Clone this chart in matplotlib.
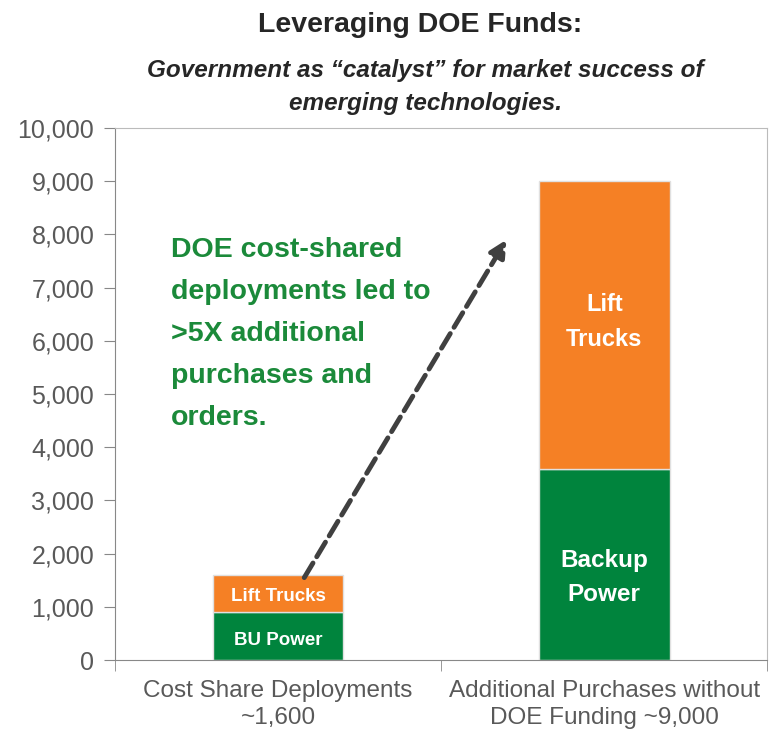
import numpy as np
import matplotlib
matplotlib.use("Agg")
import matplotlib.pyplot as plt
from matplotlib import font_manager

# ========================
# Data
# ========================
categories = ["Cost Share Deployments\n~1,600", "Additional Purchases without\nDOE Funding ~9,000"]
backup_power = [900, 3600]
lift_trucks = [700, 5400]
bottom_labels = ["BU Power", "Backup\nPower"]
top_labels = ["Lift Trucks", "Lift\nTrucks"]
yticks = np.arange(0, 10001, 1000)

GREEN = "#00843D"
ORANGE = "#F58025"
GRAY = "#595959"

names = {f.name for f in font_manager.fontManager.ttflist}
FAMILY = ["Liberation Sans Narrow", "DejaVu Sans"] if "Liberation Sans Narrow" in names else ["Liberation Sans", "DejaVu Sans"]
plt.rcParams["font.family"] = FAMILY

fig = plt.figure(figsize=(7.83, 7.31), dpi=100)
ax = fig.add_axes([0.147, 0.097, 0.833, 0.728])

x = np.arange(len(categories))
ax.bar(x, backup_power, width=0.4, color=GREEN, edgecolor="#e0e0e0", linewidth=1)
ax.bar(x, lift_trucks, width=0.4, bottom=backup_power, color=ORANGE, edgecolor="#e0e0e0", linewidth=1)

# segment labels (placed a bit below the segment centres, like the original)
ax.text(x[0], backup_power[0] / 2 - 80, bottom_labels[0], ha="center", va="center",
        color="white", fontsize=13.5, fontweight="bold")
ax.text(x[0], backup_power[0] + lift_trucks[0] / 2 - 60, top_labels[0], ha="center", va="center",
        color="white", fontsize=13.5, fontweight="bold")
ax.text(x[1], backup_power[1] / 2 - 250, bottom_labels[1], ha="center", va="center",
        color="white", fontsize=17.5, fontweight="bold", linespacing=1.6)
ax.text(x[1], backup_power[1] + lift_trucks[1] / 2 + 50, top_labels[1], ha="center", va="center",
        color="white", fontsize=17, fontweight="bold", linespacing=1.65)

# annotation arrow + text
ax.annotate("", xy=(0.70, 7900), xytext=(0.08, 1550),
            arrowprops=dict(arrowstyle="-|>", color="#404040", lw=3.5, linestyle=(0, (3.5, 1.5)),
                            mutation_scale=25, shrinkA=0, shrinkB=0))
ax.text(-0.33, 7950, "DOE cost-shared\ndeployments led to\n>5X additional\npurchases and\norders.",
        ha="left", va="top", color="#1b8a3a", fontsize=20.5, fontweight="bold", linespacing=1.8)

ax.set_xlim(-0.5, 1.5)
ax.set_ylim(0, 10000)
ax.set_yticks(yticks)
ax.set_yticklabels([f"{v:,}" for v in yticks], fontsize=18, color=GRAY)
ax.set_xticks(x)
ax.set_xticklabels(categories, fontsize=17.5, color=GRAY, linespacing=1.3)
ax.tick_params(axis="x", length=0, pad=14)
ax.tick_params(axis="y", length=8, pad=7, color="#888888")
ax.set_xticks([-0.5, 0.5, 1.5], minor=True)
ax.tick_params(axis="x", which="minor", length=8, color="#888888", direction="out")

for s in ["top", "right"]:
    ax.spines[s].set_color("#bbbbbb")
for s in ["left", "bottom"]:
    ax.spines[s].set_color("#888888")

fig.text(0.537, 0.966, "Leveraging DOE Funds:", ha="center", va="center",
         fontsize=20.5, fontweight="bold", color="#262626")
fig.text(0.543, 0.881, "Government as \u201ccatalyst\u201d for market success of\nemerging technologies.",
         ha="center", va="center", fontsize=17.5, fontweight="bold", style="italic",
         color="#262626", linespacing=1.55)

fig.savefig("out.png", dpi=100)
